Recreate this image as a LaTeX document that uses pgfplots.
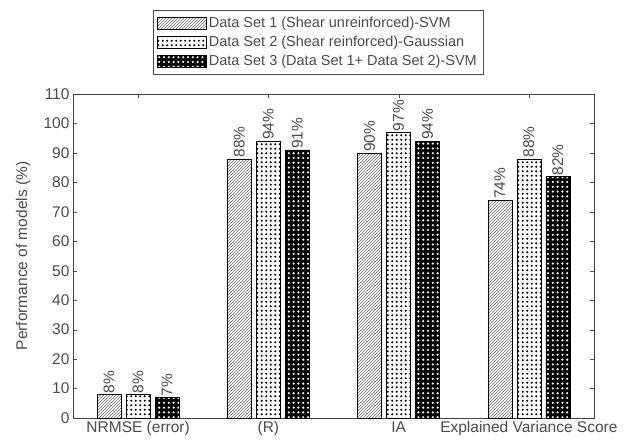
\documentclass[border=0pt]{standalone}
\usepackage{fontspec}
\setmainfont{Liberation Sans}
\usepackage{pgfplots}
\pgfplotsset{compat=1.18}
\usetikzlibrary{patterns}

% black dots on white, white dots on black
\pgfdeclarepatternformonly{bdots}{\pgfqpoint{-1.5pt}{-1.5pt}}{\pgfqpoint{3pt}{3pt}}{\pgfqpoint{4.5pt}{4.5pt}}{\pgfpathcircle{\pgfqpoint{0.75pt}{0.75pt}}{1.2pt}\pgfusepath{fill}}
\pgfdeclarepatternformonly{wdots}{\pgfqpoint{-1.5pt}{-1.5pt}}{\pgfqpoint{3pt}{3pt}}{\pgfqpoint{4.8pt}{4.8pt}}{\pgfpathcircle{\pgfqpoint{0.8pt}{0.8pt}}{1.2pt}\pgfusepath{fill}}

\definecolor{txt}{gray}{0.3}

\begin{document}
\begin{tikzpicture}
\begin{axis}[
    name=ax,
    scale only axis,
    width=521pt, height=324pt,
    ybar=5pt, bar width=24pt,
    xmin=0.5, xmax=4.5, ymin=0, ymax=110,
    xtick={1,2,3,4},
    xticklabels={NRMSE (error),(R),IA,Explained Variance Score},
    ytick={0,10,...,110},
    tick align=inside, major tick length=4pt,
    tick style={black!70},
    axis line style={black!75},
    font=\fontsize{15.5}{18}\selectfont,
    tick label style={txt},
    /pgf/number format/assume math mode=true,
    ylabel={Performance of models (\%)},
    ylabel style={txt, at={(axis description cs:-0.075,0.5)}},
    nodes near coords={\pgfmathprintnumber{\pgfplotspointmeta}\%},
    every node near coord/.append style={rotate=90, anchor=west, txt, inner sep=1pt},
    legend style={at={(axis description cs:0.154,1.259)}, anchor=north west,
        draw=black!70, text=txt, inner xsep=4pt, inner ysep=5pt,
        row sep=3pt, font=\fontsize{14.5}{16}\selectfont},
    legend cell align=left,
    legend image code/.code={\draw[#1] (0pt,-6pt) rectangle (49pt,6pt);},
]
\addplot[draw=black, fill=white, postaction={pattern=north east lines, pattern color=black!55}]
    coordinates {(1,8) (2,88) (3,90) (4,74)};
\addplot[draw=black, fill=white, postaction={pattern=bdots, pattern color=black}]
    coordinates {(1,8) (2,94) (3,97) (4,88)};
\addplot[draw=black, fill=black, postaction={pattern=wdots, pattern color=white}]
    coordinates {(1,7) (2,91) (3,94) (4,82)};
\legend{Data Set 1 (Shear unreinforced)-SVM,
        Data Set 2 (Shear reinforced)-Gaussian,
        Data Set 3 (Data Set 1+ Data Set 2)-SVM}
\end{axis}
\path (ax.south west) ++(-73pt,-24pt) rectangle ++(629pt,442pt);
\end{tikzpicture}
\end{document}
